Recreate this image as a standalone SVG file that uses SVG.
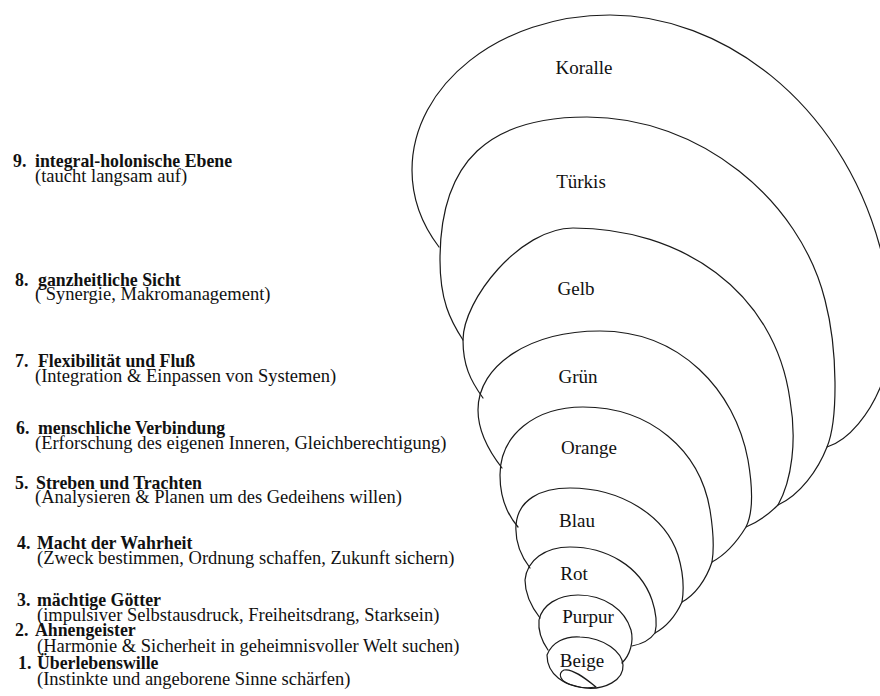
<svg xmlns="http://www.w3.org/2000/svg" width="880" height="696" viewBox="0 0 880 696">
<style>
.shell{fill:none;stroke:#1a1a1a;stroke-width:1.2;stroke-linejoin:round;stroke-linecap:round}
text{font-family:"Liberation Serif","DejaVu Serif",serif;fill:#111}
.lbl{font-size:19px;font-weight:normal;text-anchor:middle}
.h{font-size:17.8px;font-weight:bold}
.d{font-size:18.5px;font-weight:normal}
</style>
<rect width="880" height="696" fill="#fff"/>
<g id="spiral">
<g id="koralle">
<path class="shell" d="M439,247 C420,222 412,195 412,170 C412,85 500,15 610,15 C720,15 840,100 880,247 C895,300 898,350 880,388 C870,412 850,440 827,447"/>
<text class="lbl" x="584" y="74">Koralle</text>
</g>
<g id="tuerkis">
<path class="shell" d="M463,340 C450,320 440,300 440,260 C440,160 490,117 587,117 C700,117 800,200 825,300 C838,350 838,420 827,447 C818,470 800,495 778,505"/>
<text class="lbl" x="581" y="188">Türkis</text>
</g>
<g id="gelb">
<path class="shell" d="M483,398 C470,380 463,365 463,340 C463,300 520,228 573,228 C680,228 775,290 790,400 C797,440 792,480 778,505 C768,515 758,522 746,527"/>
<text class="lbl" x="576" y="295">Gelb</text>
</g>
<g id="gruen">
<path class="shell" d="M502,468 C488,450 478,430 478,410 C478,365 530,331 600,331 C680,331 735,390 748,460 C754,495 752,515 746,527 C735,545 725,555 712,562"/>
<text class="lbl" x="578" y="383">Grün</text>
</g>
<g id="orange">
<path class="shell" d="M518,527 C505,512 500,495 500,475 C500,435 535,407 583,407 C650,407 700,450 710,510 C714,535 714,550 712,562 C706,580 695,595 682,602"/>
<text class="lbl" x="589" y="454">Orange</text>
</g>
<g id="blau">
<path class="shell" d="M530,568 C520,555 515,540 516,525 C518,500 540,488 570,488 C620,488 665,515 678,555 C684,575 684,590 682,602 C676,615 666,627 655,633"/>
<text class="lbl" x="577" y="527">Blau</text>
</g>
<g id="rot">
<path class="shell" d="M540,618 C530,605 525,592 525,580 C527,560 545,547 570,547 C605,547 640,565 652,600 C657,615 657,625 655,633 C650,640 642,644 632,646"/>
<text class="lbl" x="574" y="580">Rot</text>
</g>
<g id="purpur">
<path class="shell" d="M548,650 C541,640 538,630 539,620 C542,605 558,595 578,595 C605,595 625,610 631,630 C634,642 630,655 622,663"/>
<text class="lbl" x="588" y="623">Purpur</text>
</g>
<g id="beige">
<path class="shell" d="M547,655 C552,642 565,636 580,637 C605,638 622,652 623,665 C624,680 605,690 585,688 C565,686 547,675 547,655 Z"/>
<path class="shell" d="M596,687 C585,678 572,668 564,670 C557,673 560,682 572,685 C580,688 590,688 596,687"/>
<text class="lbl" x="582" y="667">Beige</text>
</g>
</g>
<g id="level9"><text class="h" x="13" y="167">9. <tspan x="35">integral-holonische Ebene</tspan></text><text class="d" x="35" y="182">(taucht langsam auf)</text></g>
<g id="level8"><text class="h" x="15" y="286">8. <tspan x="38">ganzheitliche Sicht</tspan></text><text class="d" x="35" y="300">( Synergie, Makromanagement)</text></g>
<g id="level7"><text class="h" x="15" y="367">7. <tspan x="38">Flexibilität und Fluß</tspan></text><text class="d" x="35" y="382">(Integration &amp; Einpassen von Systemen)</text></g>
<g id="level6"><text class="h" x="16" y="434">6. <tspan x="38">menschliche Verbindung</tspan></text><text class="d" x="35" y="449">(Erforschung des eigenen Inneren, Gleichberechtigung)</text></g>
<g id="level5"><text class="h" x="15" y="489">5. <tspan x="36">Streben und Trachten</tspan></text><text class="d" x="35" y="503">(Analysieren &amp; Planen um des Gedeihens willen)</text></g>
<g id="level4"><text class="h" x="17" y="549">4. <tspan x="37">Macht der Wahrheit</tspan></text><text class="d" x="37" y="564">(Zweck bestimmen, Ordnung schaffen, Zukunft sichern)</text></g>
<g id="level3"><text class="h" x="17" y="606">3. <tspan x="37">mächtige Götter</tspan></text><text class="d" x="37" y="621">(impulsiver Selbstausdruck, Freiheitsdrang, Starksein)</text></g>
<g id="level2"><text class="h" x="15" y="636">2. <tspan x="35">Ahnengeister</tspan></text><text class="d" x="37" y="652">(Harmonie &amp; Sicherheit in geheimnisvoller Welt suchen)</text></g>
<g id="level1"><text class="h" x="18" y="669">1. <tspan x="37">Überlebenswille</tspan></text><text class="d" x="37" y="685">(Instinkte und angeborene Sinne schärfen)</text></g>
</svg>
